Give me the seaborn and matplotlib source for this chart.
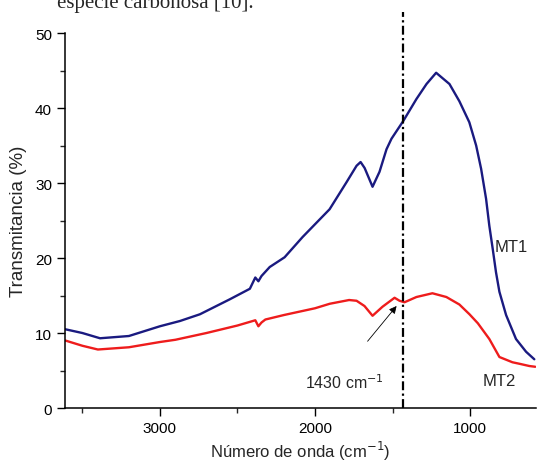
import matplotlib
matplotlib.use("Agg")
import matplotlib.pyplot as plt
import seaborn as sns
import pandas as pd

# MT1 spectrum
mt1_wave = [3610, 3500, 3386, 3200, 3000, 2871, 2742, 2549, 2420, 2385, 2365, 2345, 2292, 2196, 2080,
            1906, 1797, 1732, 1706, 1680, 1629, 1584, 1539, 1507, 1430, 1346, 1281, 1219, 1133,
            1069, 1005, 961, 929, 897, 876, 854, 833, 811, 768, 704, 639, 586]
mt1_trans = [10.5, 10.0, 9.3, 9.6, 10.9, 11.6, 12.5, 14.5, 15.9, 17.4, 16.9, 17.6, 18.8, 20.1, 22.8,
             26.5, 30.1, 32.3, 32.8, 32.0, 29.5, 31.5, 34.5, 35.9, 38.3, 41.2, 43.2, 44.7, 43.2,
             40.9, 38.1, 35.0, 31.9, 27.9, 24.3, 21.2, 18.1, 15.5, 12.4, 9.2, 7.5, 6.5]

# MT2 spectrum
mt2_wave = [3610, 3500, 3400, 3200, 3000, 2900, 2700, 2500, 2385, 2365, 2345, 2320, 2200, 2000,
            1905, 1780, 1732, 1681, 1629, 1565, 1487, 1455, 1423, 1346, 1243, 1153, 1069, 1004,
            950, 876, 811, 727, 682, 618, 580]
mt2_trans = [9.0, 8.3, 7.8, 8.1, 8.8, 9.1, 10.0, 11.0, 11.7, 10.9, 11.4, 11.8, 12.4, 13.3,
             13.9, 14.4, 14.3, 13.6, 12.3, 13.5, 14.7, 14.3, 14.1, 14.8, 15.3, 14.8, 13.8, 12.5,
             11.3, 9.2, 6.8, 6.1, 5.9, 5.6, 5.5]

marker_wave = 1430
x_ticks = [3000, 2000, 1000]
y_ticks = [0, 10, 20, 30, 40, 50]

df1 = pd.DataFrame({"wave": mt1_wave, "trans": mt1_trans})
df2 = pd.DataFrame({"wave": mt2_wave, "trans": mt2_trans})

sns.set_style("ticks")
plt.rcParams["font.family"] = ["Liberation Sans", "DejaVu Sans"]

fig = plt.figure(figsize=(5.38, 4.64), dpi=100)
ax = fig.add_axes([0.1214, 0.1185, 0.9963 - 0.1214, 0.9267 - 0.1185])

sns.lineplot(data=df1, x="wave", y="trans", color="#1a1a80", lw=1.7, ax=ax)
sns.lineplot(data=df2, x="wave", y="trans", color="#ee1c1c", lw=1.7, ax=ax)

ax.set_xlim(3610, 575)
ax.set_ylim(0, 50)
ax.set_xticks(x_ticks)
ax.set_xticks([3500, 2500, 1500], minor=True)
ax.set_yticks(y_ticks)
ax.set_yticks([5, 15, 25, 35, 45], minor=True)
ax.tick_params(axis="both", which="major", length=6, width=1, labelsize=11, colors="black")
ax.tick_params(axis="both", which="minor", length=3.5, width=1)
sns.despine(ax=ax)
for s in ["left", "bottom"]:
    ax.spines[s].set_linewidth(1.1)
    ax.spines[s].set_color("black")

ax.set_xlabel("Número de onda (cm$^{-1}$)", fontsize=12, labelpad=3)
ax.set_ylabel("Transmitancia (%)", fontsize=13.5, labelpad=6)

# vertical dash-dot marker, running above the plot area
ax.plot([marker_wave, marker_wave], [0, 52.8], color="black", lw=1.6,
        linestyle=(0, (4, 1.5, 1, 1.5)), clip_on=False)

ax.annotate("", xy=(1474, 13.6), xytext=(1661, 8.9),
            arrowprops=dict(arrowstyle="-|>", color="black", lw=0.6, mutation_scale=11,
                            shrinkA=0, shrinkB=0))
ax.text(1809, 3.5, "1430 cm$^{-1}$", fontsize=11.5, ha="center", va="center")

ax.text(845, 21.6, "MT1", fontsize=12, ha="left", va="center")
ax.text(920, 3.7, "MT2", fontsize=12, ha="left", va="center")

fig.text(0.106, 1 - 8 / 464, "especie carbonosa [10].", fontsize=15,
         family=["Liberation Serif", "DejaVu Serif"], va="baseline", ha="left")

fig.savefig("out.png", dpi=100)
